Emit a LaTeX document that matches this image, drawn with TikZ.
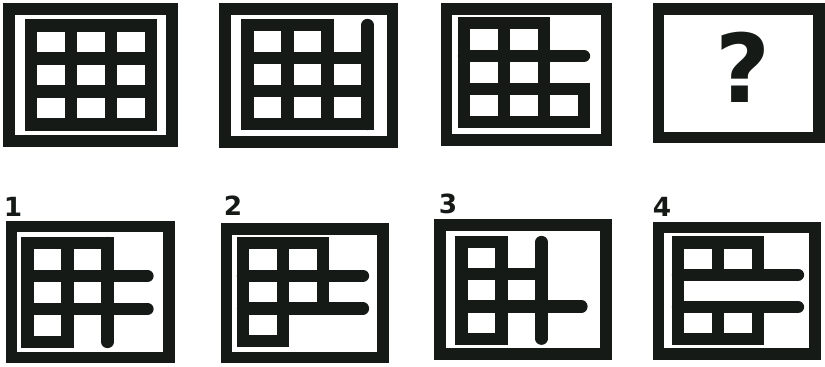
\documentclass[tikz,border=0pt]{standalone}
\usepackage{fontspec}
\usepackage{xcolor}
\usepackage{tikz}
\usetikzlibrary{positioning}
\newfontfamily\puzzlefont{DejaVu Sans}
\definecolor{inkBlack}{HTML}{151A17}

\tikzset{
  frameline/.style={draw=inkBlack, line width=6.8pt},
  gridline/.style={draw=inkBlack, line width=7pt, line cap=rect},
  openline/.style={gridline, line cap=round},
  cell/.style={x=0.8cm, y=-0.66cm},
  optlabel/.style={font=\puzzlefont\bfseries\fontsize{15}{15}\selectfont, text=inkBlack, inner sep=0pt}
}

\begin{document}
\begin{tikzpicture}[x=0.02cm, y=-0.02cm]
  \useasboundingbox (0,0) rectangle (825,366);

  % TOP ROW: the series and the missing one
  \draw[frameline] (9,9) rectangle (172,141);
  \draw[frameline] (225,9) rectangle (392.5,142);
  \draw[frameline] (446.5,9) rectangle (606.5,140);
  \draw[frameline] (658.5,9) rectangle (819,137.5);

  \begin{scope}[shift={(31,25.5)}, cell]
    \foreach \i in {0,...,3} {
      \draw[gridline] (\i,0) -- (\i,3);
      \draw[gridline] (0,\i) -- (3,\i);
    }
  \end{scope}

  \begin{scope}[shift={(247.5,25)}, cell]
    \foreach \i in {0,1,2} {
      \draw[gridline] (\i,0) -- (\i,3);
    }
    \draw[openline] (3,0) -- (3,3);
    \foreach \i in {1,2,3} {
      \draw[gridline] (0,\i) -- (3,\i);
    }
    \draw[gridline] (0,0) -- (2,0);
  \end{scope}

  \begin{scope}[shift={(464,23)}, cell]
    \foreach \i in {0,1,2} {
      \draw[gridline] (\i,0) -- (\i,3);
    }
    \draw[gridline] (3,2) -- (3,3);
    \draw[openline] (0,1) -- (3,1);
    \draw[gridline] (0,2) -- (3,2);
    \draw[gridline] (0,3) -- (3,3);
    \draw[gridline] (0,0) -- (2,0);
  \end{scope}

  \node[font=\puzzlefont\bfseries\fontsize{54}{54}\selectfont, text=inkBlack, inner sep=0pt]
    (qmark) at (743,67) {?};

  % BOTTOM ROW: the four options
  \draw[frameline] (11.5,226.5) rectangle (169,357.5);
  \draw[frameline] (226.5,229) rectangle (383,357.5);
  \draw[frameline] (440,225) rectangle (606,354);
  \draw[frameline] (658.5,227.5) rectangle (815,354);

  \node[optlabel] (lbl1) at (13,207) {1};
  \node[optlabel] (lbl2) at (233,206) {2};
  \node[optlabel] (lbl3) at (448,204) {3};
  \node[optlabel] (lbl4) at (662,207) {4};

  \begin{scope}[shift={(27.5,243)}, cell]
    \foreach \i in {0,1} {
      \draw[gridline] (\i,0) -- (\i,3);
    }
    \draw[openline] (2,0) -- (2,3);
    \draw[gridline] (0,0) -- (2,0);
    \draw[openline] (0,1) -- (3,1);
    \draw[openline] (0,2) -- (3,2);
    \draw[gridline] (0,3) -- (1,3);
  \end{scope}

  \begin{scope}[shift={(243,243)}, cell, y=-0.655cm]
    \draw[gridline] (0,0) -- (0,3);
    \draw[gridline] (1,0) -- (1,3);
    \draw[gridline] (2,0) -- (2,2);
    \draw[gridline] (0,0) -- (2,0);
    \draw[openline] (0,1) -- (3,1);
    \draw[openline] (0,2) -- (3,2);
    \draw[gridline] (0,3) -- (1,3);
  \end{scope}

  \begin{scope}[shift={(461.5,242)}, cell, y=-0.645cm]
    \foreach \i in {0,1} {
      \draw[gridline] (\i,0) -- (\i,3);
    }
    \draw[openline] (2,0) -- (2,3);
    \draw[gridline] (0,0) -- (1,0);
    \draw[gridline] (0,1) -- (2,1);
    \draw[openline] (0,2) -- (3,2);
    \draw[gridline] (0,3) -- (1,3);
  \end{scope}

  \begin{scope}[shift={(678,242.5)}, cell, y=-0.645cm]
    \draw[gridline] (0,0) -- (0,3);
    \foreach \i in {1,2} {
      \draw[gridline] (\i,0) -- (\i,1);
      \draw[gridline] (\i,2) -- (\i,3);
    }
    \draw[gridline] (0,0) -- (2,0);
    \draw[openline] (0,1) -- (3,1);
    \draw[openline] (0,2) -- (3,2);
    \draw[gridline] (0,3) -- (2,3);
  \end{scope}
\end{tikzpicture}
\end{document}
